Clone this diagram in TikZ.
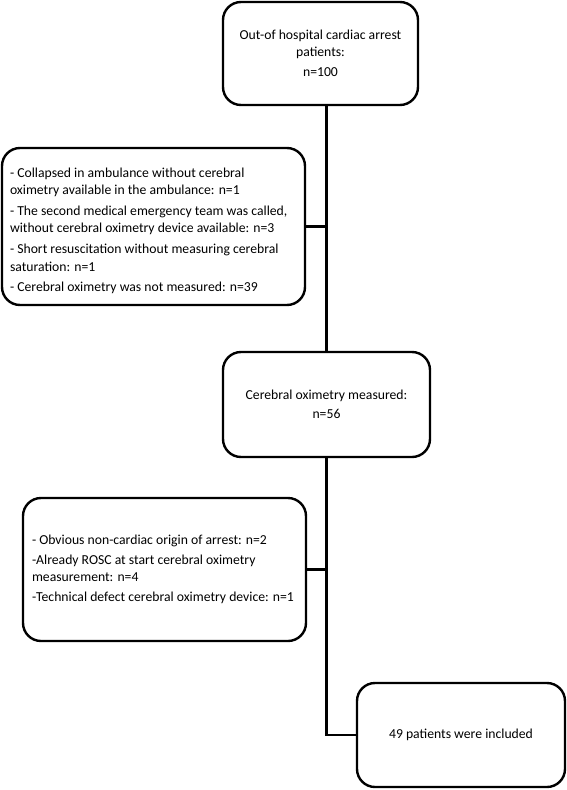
\documentclass[tikz,border=0pt]{standalone}
\usepackage{fontspec}
\setmainfont{Carlito}
\begin{document}
\begin{tikzpicture}[x=1pt,y=-1pt,
    box/.style={draw,line width=2.4pt,rounded corners=18pt,inner sep=0pt,
      font=\fontsize{13.7}{16.7}\selectfont},
    link/.style={line width=2.4pt}]
  \useasboundingbox (0,0) rectangle (567,790);
  \node[box,minimum width=195,minimum height=103,align=center] (ohca) at (320.5,53.5)
    {Out-of hospital cardiac arrest\\patients:\\[3.5pt]n=100};
  \node[box,minimum width=303,minimum height=157,
        font=\fontsize{13.7}{17.3}\selectfont] (excl1) at (153.5,226.5)
    {\begin{minipage}{287pt}\raggedright\vspace*{9pt}
     - Collapsed in ambulance without cerebral\\
     oximetry available in the ambulance: n=1\\[3.5pt]
     - The second medical emergency team was called,\\
     without cerebral oximetry device available: n=3\\[3.5pt]
     - Short resuscitation without measuring cerebral\\
     saturation: n=1\\[3.5pt]
     - Cerebral oximetry was not measured: n=39\end{minipage}};
  \node[box,minimum width=207,minimum height=105,align=center] (meas) at (326.5,404.5)
    {Cerebral oximetry measured:\\[2.5pt]n=56};
  \node[box,minimum width=283,minimum height=143] (excl2) at (164.5,569.5)
    {\begin{minipage}{265pt}\raggedright
     - Obvious non-cardiac origin of arrest: n=2\\[3.5pt]
     -Already ROSC at start cerebral oximetry\\
     measurement: n=4\\[3.5pt]
     -Technical defect cerebral oximetry device: n=1\end{minipage}};
  \node[box,minimum width=208,minimum height=104,align=center] (incl) at (461,735)
    {49 patients were included};
  % connectors
  \draw[link] (meas.north |- ohca.south) -- (meas.north);
  \draw[link] (excl1.east) -- (excl1.east -| meas.north);
  \draw[link] (meas.south) |- (incl.west);
  \draw[link] (excl2.east) -- (excl2.east -| meas.south);
\end{tikzpicture}
\end{document}
